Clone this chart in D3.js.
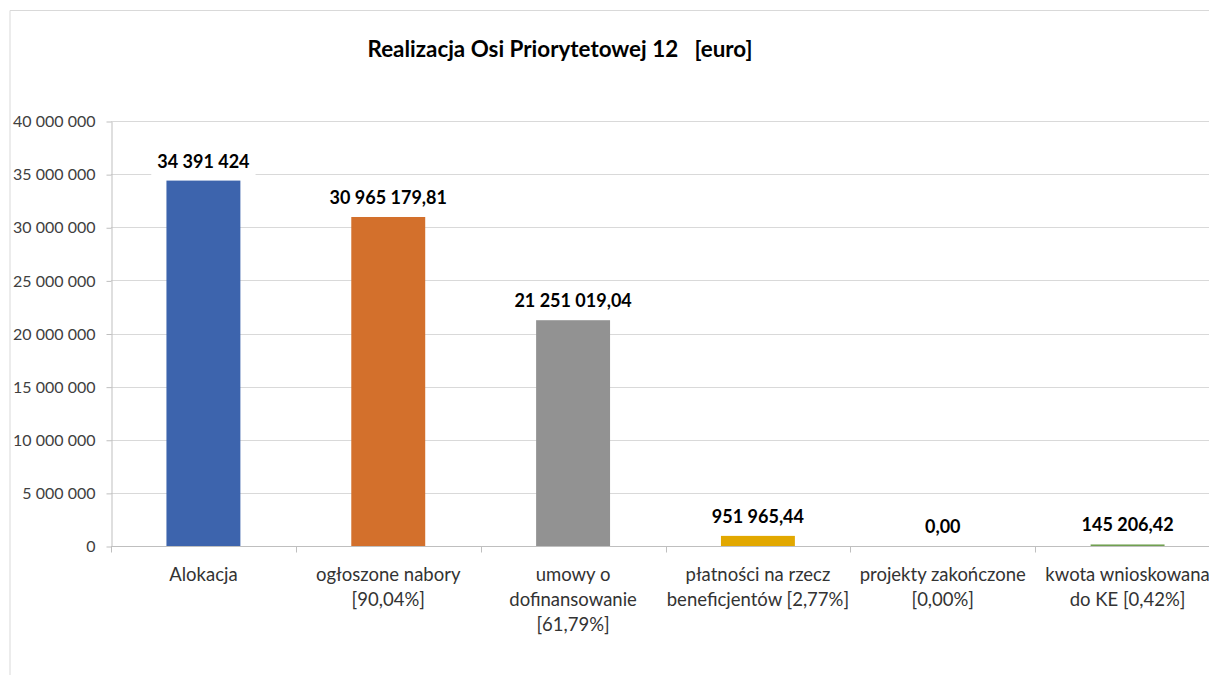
<!DOCTYPE html>
<head>
  <meta charset="utf-8">
  <title>Realizacja Osi Priorytetowej 12</title>
  <script src="https://cdn.jsdelivr.net/npm/d3@7/dist/d3.min.js"></script>
  <style>
    body { margin: 0; background: #fff; }
    svg { display: block; font-family: Lato, "Noto Sans", sans-serif; }
  </style>
</head>
<body>
<div id="chart"></div>
<script>
// dane
const categories = [
  'Alokacja',
  'ogłoszone nabory\n[90,04%]',
  'umowy o\ndofinansowanie\n[61,79%]',
  'płatności na rzecz\nbeneficjentów [2,77%]',
  'projekty zakończone\n[0,00%]',
  'kwota wnioskowana\ndo KE [0,42%]'
];
const values = [34391424, 30965179.81, 21251019.04, 951965.44, 0, 145206.42];
const decimals = [0, 2, 2, 2, 2, 2];
const colors = ['#3D64AD', '#D3702C', '#929292', '#E2A800', '#4472C4', '#70A050'];
const yTicks = [0, 5e6, 10e6, 15e6, 20e6, 25e6, 30e6, 35e6, 40e6];
const title = 'Realizacja Osi Priorytetowej 12\u00a0\u00a0\u00a0[euro]';

const width = 1209, height = 675;
const margin = { left: 111, top: 121, bottom: 129 };
const plotRight = 1220;

const pl = d3.formatLocale({ decimal: ',', thousands: '\u00a0', grouping: [3], currency: ['', ''] });

const svg = d3.select('#chart').append('svg')
  .attr('width', width)
  .attr('height', height);

// ramka obszaru wykresu
svg.append('path')
  .attr('d', `M10,${height} V10.5 H${width}`)
  .attr('fill', 'none')
  .attr('stroke', '#D9D9D9')
  .attr('stroke-width', 1);

const x = d3.scaleBand()
  .domain(categories)
  .range([margin.left, plotRight])
  .paddingInner(0.6)
  .paddingOuter(0.3);

const xStep = d3.scaleBand()
  .domain(categories)
  .range([margin.left, plotRight]);

const y = d3.scaleLinear()
  .domain([0, 40e6])
  .range([height - margin.bottom, margin.top]);

// linie siatki
svg.append('g')
  .selectAll('line')
  .data(yTicks.filter(d => d > 0))
  .join('line')
  .attr('x1', margin.left)
  .attr('x2', width)
  .attr('y1', d => Math.round(y(d)) + 0.5)
  .attr('y2', d => Math.round(y(d)) + 0.5)
  .attr('stroke', '#D9D9D9');

// oś Y
const yAxis = svg.append('g')
  .attr('transform', `translate(${margin.left + 0.5},0.5)`)
  .call(d3.axisLeft(y).tickValues(yTicks).tickFormat(pl.format(',.0f')).tickSizeInner(5).tickSizeOuter(0).tickPadding(11));
yAxis.select('.domain').attr('stroke', '#BFBFBF');
yAxis.selectAll('.tick line').attr('stroke', '#BFBFBF');
yAxis.selectAll('.tick text')
  .attr('fill', '#404040')
  .style('font-size', '16px')
  .style('font-family', 'Lato, sans-serif');

// słupki
svg.append('g')
  .selectAll('rect')
  .data(values)
  .join('rect')
  .attr('x', (d, i) => x(categories[i]))
  .attr('width', x.bandwidth())
  .attr('y', d => y(d))
  .attr('height', d => y(0) - y(d))
  .attr('fill', (d, i) => colors[i]);

// oś X
const y0 = Math.round(y(0)) + 0.5;
svg.append('line')
  .attr('x1', margin.left)
  .attr('x2', width)
  .attr('y1', y0)
  .attr('y2', y0)
  .attr('stroke', '#BFBFBF');
svg.append('g')
  .selectAll('line')
  .data(categories)
  .join('line')
  .attr('x1', d => Math.round(xStep(d)) + 0.5)
  .attr('x2', d => Math.round(xStep(d)) + 0.5)
  .attr('y1', y0)
  .attr('y2', y0 + 6)
  .attr('stroke', '#BFBFBF');

// etykiety kategorii
const catLabels = svg.append('g')
  .selectAll('text')
  .data(categories)
  .join('text')
  .attr('text-anchor', 'middle')
  .attr('fill', '#333')
  .style('font-size', '18.5px');
catLabels.selectAll('tspan')
  .data(d => d.split('\n').map(t => ({ t, c: d })))
  .join('tspan')
  .attr('x', d => x(d.c) + x.bandwidth() / 2)
  .attr('y', (d, i) => 581 + i * 25)
  .text(d => d.t);

// etykiety wartości z białym tłem
const valG = svg.append('g')
  .selectAll('g')
  .data(values)
  .join('g')
  .attr('transform', (d, i) => `translate(${x(categories[i]) + x.bandwidth() / 2},${y(d) - 13})`);
const valText = valG.append('text')
  .attr('text-anchor', 'middle')
  .attr('fill', '#000')
  .style('font-size', '18px')
  .style('font-weight', 'bold')
  .text((d, i) => pl.format(`,.${decimals[i]}f`)(d));
valG.insert('rect', 'text')
  .each(function () {
    const bb = this.nextSibling.getBBox();
    d3.select(this)
      .attr('x', bb.x - 6)
      .attr('y', bb.y - 4)
      .attr('width', bb.width + 12)
      .attr('height', bb.height + 8);
  })
  .attr('fill', '#fff');

// tytuł
svg.append('text')
  .attr('x', 560)
  .attr('y', 57)
  .attr('text-anchor', 'middle')
  .attr('fill', '#000')
  .style('font-size', '22.4px')
  .style('font-weight', 'bold')
  .text(title);
</script>
</body>
